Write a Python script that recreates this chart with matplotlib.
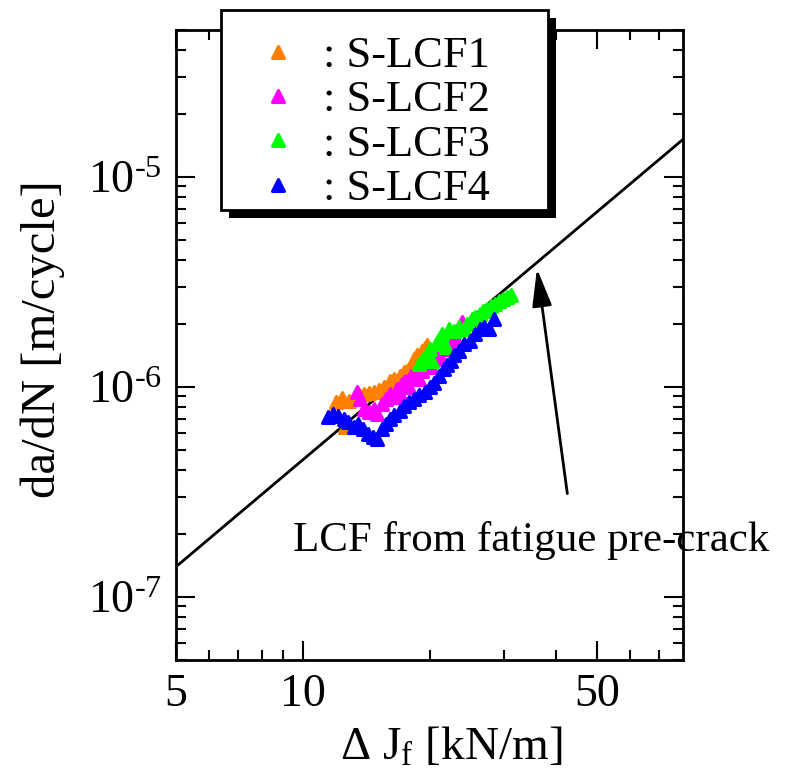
import matplotlib
matplotlib.use("Agg")
import matplotlib.pyplot as plt
from matplotlib.patches import Rectangle
from matplotlib.markers import MarkerStyle
from matplotlib.ticker import LogLocator, FixedLocator, FixedFormatter, NullFormatter
import numpy as np

plt.rcParams['font.family'] = ['Liberation Serif', 'DejaVu Serif']
plt.rcParams['mathtext.fontset'] = 'custom'
plt.rcParams['mathtext.rm'] = 'Liberation Serif'
plt.rcParams['mathtext.it'] = 'Liberation Serif:italic'

# data
dJ_1 = [12.0, 12.4, 12.6, 12.9, 13.3, 13.6, 14.0, 14.4, 14.8, 15.2, 15.6, 16.1,
        16.5, 17.0, 17.4, 17.7, 18.2, 18.4, 18.7, 19.2, 19.5, 19.7]
dadN_1 = [8.5e-7, 8.8e-7, 6.45e-7, 8.6e-7, 8.96e-7, 9.16e-7, 9.26e-7, 9.36e-7,
          9.47e-7, 9.68e-7, 1.00e-6, 1.06e-6, 1.09e-6, 1.13e-6, 1.17e-6, 1.19e-6,
          1.29e-6, 1.36e-6, 1.42e-6, 1.48e-6, 1.53e-6, 1.58e-6]

dJ_2 = [13.45, 13.7, 14.0, 14.4, 14.8, 15.0, 15.4, 15.8, 16.1, 16.5, 16.7, 17.0,
        17.2, 17.5, 17.9, 18.1, 18.5, 18.9, 19.2, 19.7, 20.2, 20.7, 21.1, 21.4,
        21.9, 22.5, 23.0, 23.5, 23.9]
dadN_2 = [9.47e-7, 8.77e-7, 7.86e-7, 7.6e-7, 7.86e-7, 7.44e-7, 8.3e-7, 8.77e-7,
          9.26e-7, 8.96e-7, 9.8e-7, 9.26e-7, 1.03e-6, 1.07e-6, 1.00e-6, 1.12e-6,
          1.15e-6, 1.09e-6, 1.19e-6, 1.24e-6, 1.24e-6, 1.36e-6, 1.42e-6, 1.52e-6,
          1.60e-6, 1.66e-6, 1.73e-6, 1.93e-6, 2.04e-6]

dJ_3 = [18.9, 19.3, 19.7, 20.0, 20.3, 20.7, 21.1, 21.4, 21.9, 22.3, 22.9, 23.5,
        24.1, 24.6, 25.2, 25.7, 26.3, 26.8, 27.4, 28.0, 28.6, 29.3, 29.9, 30.6, 31.3]
dadN_3 = [1.29e-6, 1.36e-6, 1.44e-6, 1.52e-6, 1.33e-6, 1.60e-6, 1.69e-6, 1.79e-6,
          1.55e-6, 1.89e-6, 1.85e-6, 1.93e-6, 1.89e-6, 2.00e-6, 2.11e-6, 2.15e-6,
          2.23e-6, 2.30e-6, 2.35e-6, 2.43e-6, 2.49e-6, 2.56e-6, 2.62e-6, 2.68e-6, 2.74e-6]

dJ_4 = [11.5, 11.8, 12.1, 12.5, 12.8, 13.2, 13.5, 13.9, 14.3, 14.7, 15.0, 15.4,
        15.8, 16.1, 16.5, 17.0, 17.4, 17.9, 18.4, 18.9, 19.5, 20.0, 20.5, 21.1,
        21.7, 22.0, 22.5, 22.9, 23.5, 24.2, 24.9, 25.6, 26.3, 27.0, 27.7, 28.5]
dadN_4 = [7.2e-7, 7.44e-7, 7.28e-7, 7.04e-7, 6.82e-7, 6.45e-7, 6.67e-7, 6.31e-7,
          5.97e-7, 5.78e-7, 5.65e-7, 6.31e-7, 6.67e-7, 7.04e-7, 7.36e-7, 7.69e-7,
          8.12e-7, 8.48e-7, 8.77e-7, 9.16e-7, 9.47e-7, 1.00e-6, 1.04e-6, 1.12e-6,
          1.22e-6, 1.27e-6, 1.33e-6, 1.42e-6, 1.48e-6, 1.60e-6, 1.66e-6, 1.79e-6,
          1.89e-6, 1.93e-6, 1.89e-6, 2.11e-6]

# LCF from fatigue pre-crack: da/dN = C * dJ^m
C_fit = 9.16e-9
m_fit = 1.69
dJ_fit = [5, 80]

series = [(dJ_1, dadN_1, '#ff7f00', ': S-LCF1'),
          (dJ_2, dadN_2, '#ff00ff', ': S-LCF2'),
          (dJ_3, dadN_3, '#00ff00', ': S-LCF3'),
          (dJ_4, dadN_4, '#0000ff', ': S-LCF4')]

fig = plt.figure(figsize=(7.9, 7.74), dpi=100)
ax = fig.add_axes([176/790, 1-660/774, 507/790, 630/774])

xf = np.array(dJ_fit, dtype=float)
ax.plot(xf, C_fit * xf**m_fit, color='black', lw=2, zorder=1)

tri = MarkerStyle('^', joinstyle='round')
handles = []
for x, y, c, lab in series:
    h, = ax.plot(x, y, ls='none', marker=tri, ms=8.5, color=c, mec=c, mew=2.2,
                 label=lab, zorder=2)
    handles.append(h)

ax.set_xscale('log')
ax.set_yscale('log')
ax.set_xlim(5, 80)
ax.set_ylim(5e-8, 5e-5)

ax.xaxis.set_major_locator(FixedLocator([5, 10, 50]))
ax.xaxis.set_major_formatter(FixedFormatter(['5', '10', '50']))
ax.xaxis.set_minor_locator(FixedLocator([6, 7, 8, 9, 20, 30, 40, 60, 70]))
ax.xaxis.set_minor_formatter(NullFormatter())
ax.yaxis.set_major_locator(FixedLocator([1e-7, 1e-6, 1e-5]))
ax.yaxis.set_major_formatter(FixedFormatter([r'$\mathregular{10^{\text{-}7}}$',
                                             r'$\mathregular{10^{\text{-}6}}$',
                                             r'$\mathregular{10^{\text{-}5}}$']))
ax.yaxis.set_minor_locator(LogLocator(base=10, subs=np.arange(2, 10)))
ax.yaxis.set_minor_formatter(NullFormatter())

ax.tick_params(which='both', direction='in', top=True, right=True, width=1.5,
               labelsize=33, pad=10)
ax.tick_params(which='major', length=14)
ax.tick_params(which='minor', length=7)
for s in ax.spines.values():
    s.set_linewidth(2)

ax.set_xlabel('Δ J$_\\mathregular{f}$ [kN/m]', fontsize=34)
ax.xaxis.set_label_coords((451-176)/507, -0.105)
ax.set_ylabel('da/dN [m/cycle]', fontsize=35)
ax.yaxis.set_label_coords(-0.218, 0.51)

ax.annotate('', xy=(36.0, 3.65e-6), xytext=(42.5, 3.1e-7),
            arrowprops=dict(arrowstyle='-|>,head_length=2.3,head_width=0.6',
                            color='black', lw=2, shrinkA=0, shrinkB=0))
ax.text(34.9, 1.85e-7, 'LCF from fatigue pre-crack', fontsize=31,
        ha='center', va='center', clip_on=False)

# legend box with black drop shadow, drawn in figure pixels
W, H = 790, 774
frame = Rectangle((221/W, 1-210/H), 327/W, 200/H, transform=fig.transFigure,
                  facecolor='white', edgecolor='black', lw=2, zorder=9.5,
                  clip_on=False)
shadow = Rectangle((229/W, 1-218/H), 327/W, 200/H, transform=fig.transFigure,
                   facecolor='black', edgecolor='none', zorder=9, clip_on=False)
ax.add_artist(shadow)
ax.add_artist(frame)

leg = ax.legend(handles=handles, loc='upper left',
                bbox_to_anchor=(245/W, 1-36/H), bbox_transform=fig.transFigure,
                fontsize=32, frameon=False, handlelength=1.5, handletextpad=0.26,
                labelspacing=0.095, borderpad=0, borderaxespad=0)
leg.set_zorder(10)

fig.savefig('out.png', dpi=100)
